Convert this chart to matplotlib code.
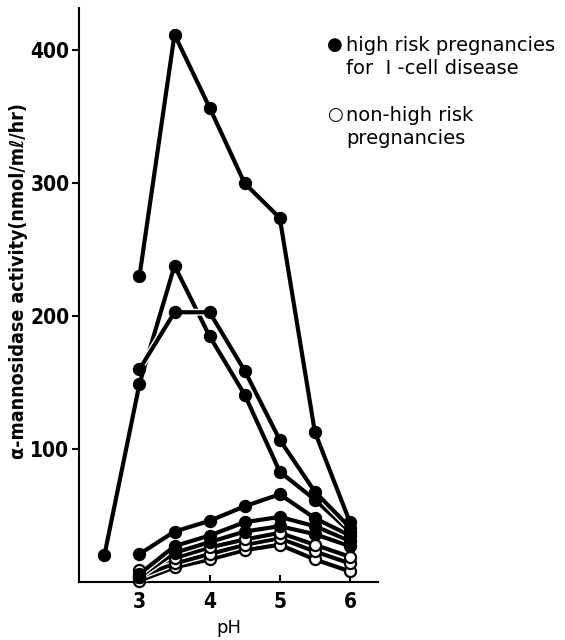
import matplotlib
matplotlib.use("Agg")
import matplotlib.pyplot as plt
import matplotlib.patheffects as pe

# pH values
ph = [3.0, 3.5, 4.0, 4.5, 5.0, 5.5, 6.0]
ph_ext = [2.5, 3.0, 3.5, 4.0, 4.5, 5.0, 5.5, 6.0]

# high risk pregnancies for I-cell disease (filled circles)
high_1 = [230, 412, 357, 300, 274, 113, 45]
high_2 = [20, 149, 238, 185, 141, 83, 62, 38]   # starts at pH 2.5
high_3 = [160, 203, 203, 159, 107, 68, 41]
high_4 = [21, 38, 46, 57, 66, 48, 35]
high_5 = [6, 27, 35, 45, 49, 42, 31]
high_6 = [4, 22, 30, 38, 42, 36, 27]

# non-high risk pregnancies (open circles)
low_1 = [9, 18, 26, 32, 37, 28, 19]
low_2 = [4, 14, 21, 28, 33, 23, 14]
low_3 = [1, 11, 17, 24, 28, 17, 8]

yticks = [100, 200, 300, 400]
xticks = [3, 4, 5, 6]

fig = plt.figure(figsize=(5.65, 6.4), dpi=100)
ax = fig.add_axes([0.140, 0.0906, 0.529, 0.897])

halo = [pe.Stroke(linewidth=5, foreground='white'), pe.Normal()]

def draw(xs, ys, filled):
    ax.plot(xs, ys, color='black', linewidth=3.0, path_effects=halo,
            clip_on=False, zorder=3)
    ax.plot(xs, ys, linestyle='none', marker='o', markersize=8,
            markerfacecolor='black' if filled else 'white',
            markeredgecolor='black', markeredgewidth=1.6,
            clip_on=False, zorder=4)

# draw bottom series first so upper ones sit on top
for s in [low_3, low_2, low_1]:
    draw(ph, s, False)
for s in [high_6, high_5, high_4]:
    draw(ph, s, True)
draw(ph_ext, high_2, True)
draw(ph, high_3, True)
draw(ph, high_1, True)

ax.set_xlim(2.14, 6.4)
ax.set_ylim(0, 432)
ax.spines['top'].set_visible(False)
ax.spines['right'].set_visible(False)
ax.spines['left'].set_linewidth(1.5)
ax.spines['bottom'].set_linewidth(1.5)

ax.set_yticks(yticks)
ax.set_yticklabels([str(v) for v in yticks], fontweight='bold', fontsize=15,
                   fontstretch='condensed')
ax.set_xticks(xticks)
ax.set_xticklabels([str(v) for v in xticks], fontweight='bold', fontsize=15,
                   fontstretch='condensed')
ax.tick_params(axis='y', direction='out', length=5, width=1.5, pad=2)
ax.tick_params(axis='x', direction='in', length=5, width=1.5, pad=7)

ax.set_xlabel('pH', fontsize=13, labelpad=5)
ax.set_ylabel('α-mannosidase activity(nmol/mℓ/hr)', fontsize=14, fontweight='bold',
              fontstretch='condensed')
ax.yaxis.set_label_coords(-0.17, 0.525)

# legend drawn as text like the original
fig.text(0.592, 0.929, '●', fontsize=13, va='center', ha='center')
fig.text(0.612, 0.929, 'high risk pregnancies', fontsize=14, va='center')
fig.text(0.612, 0.893, 'for  I -cell disease', fontsize=14, va='center')
fig.text(0.592, 0.820, '○', fontsize=13, va='center', ha='center')
fig.text(0.612, 0.820, 'non-high risk', fontsize=14, va='center')
fig.text(0.612, 0.784, 'pregnancies', fontsize=14, va='center')

fig.savefig('out.png', dpi=100)
